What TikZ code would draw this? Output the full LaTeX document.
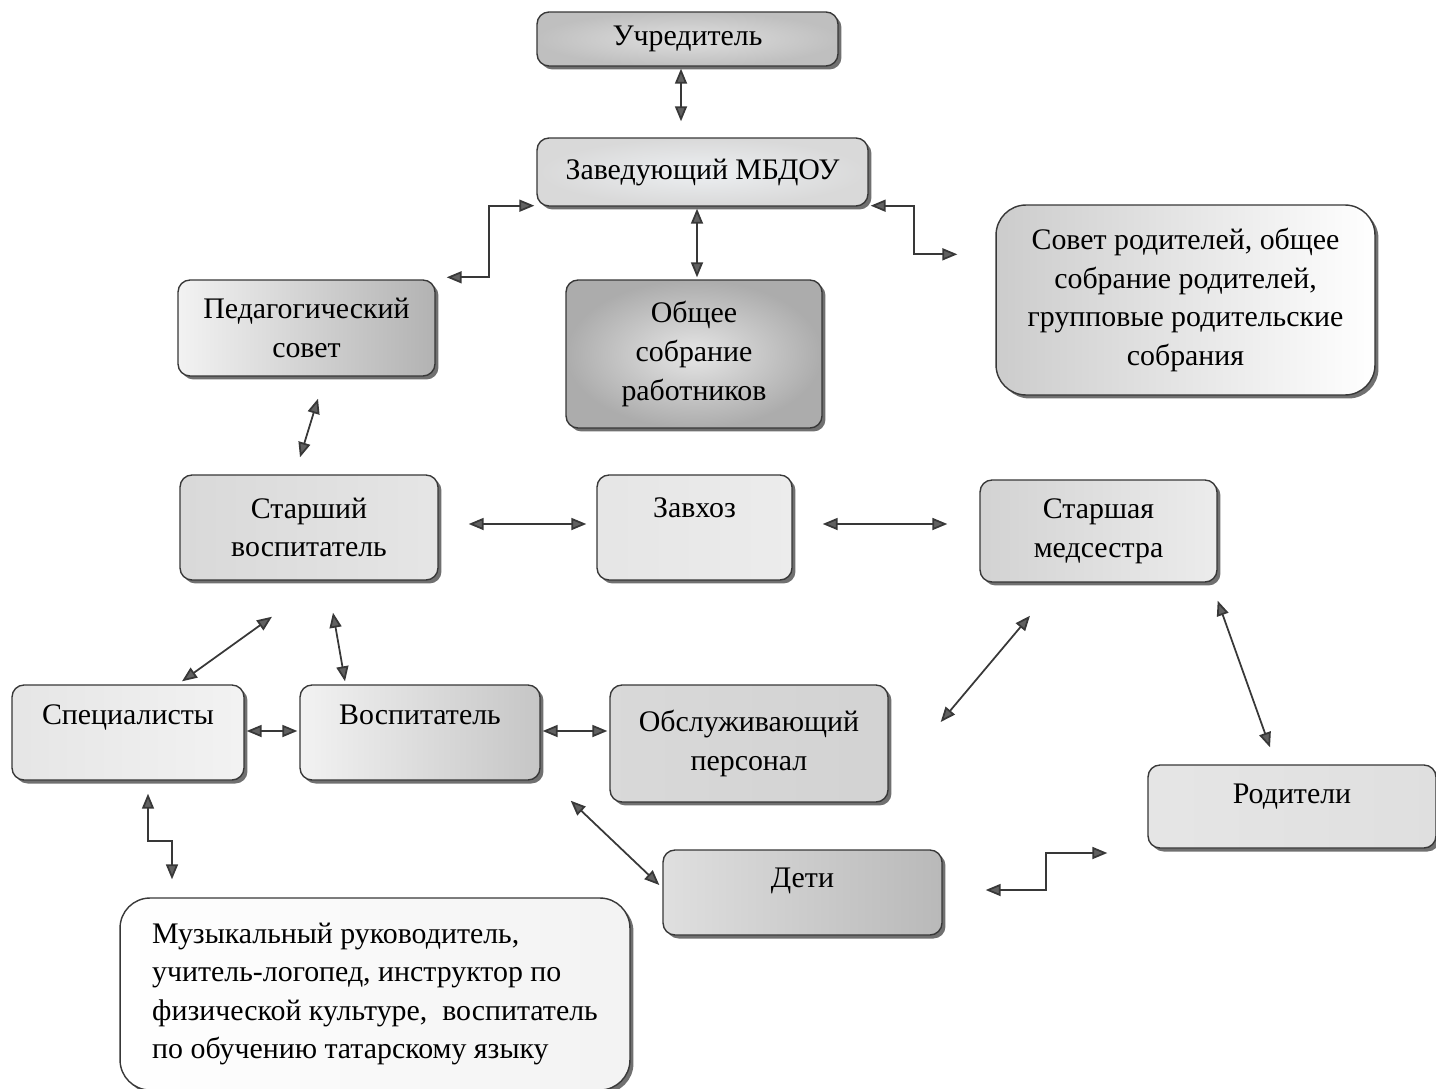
\documentclass[tikz,border=0pt]{standalone}
\usepackage{fontspec}
\setmainfont{Liberation Serif}
\usetikzlibrary{arrows.meta}
\usetikzlibrary{positioning}
\usetikzlibrary{shadows}
\usetikzlibrary{calc}
\definecolor{mline}{rgb}{0.22, 0.22, 0.22}
\definecolor{mtip}{rgb}{0.38, 0.38, 0.38}
\definecolor{mpale}{rgb}{0.93, 0.94, 0.95}
\tikzset{
    unit/.style={draw=mline, line width=0.8pt, rounded corners=0.24cm, align=center,
        font=\fontsize{17}{22}\selectfont, inner sep=2pt,
        drop shadow={shadow xshift=0.07cm, shadow yshift=-0.07cm, fill=black!70, opacity=0.8}},
    bigunit/.style={unit, rounded corners=0.6cm},
    lifted/.style={text depth=#1},
    link/.style={{Triangle[length=0.3cm, width=0.24cm, fill=mtip]}-{Triangle[length=0.3cm, width=0.24cm, fill=mtip]},
        line width=1pt, draw=mline}
}

\begin{document}
\begin{tikzpicture}[x=0.02cm, y=-0.02cm]
    \useasboundingbox (0, 0) rectangle (1436, 1088);

    \node[unit, inner color=gray!25, outer color=gray!50, minimum width=6.02cm, minimum height=1.08cm] (uch) at (687.5, 39) {Учредитель};
    \node[unit, inner color=mpale, outer color=gray!30, minimum width=6.62cm, minimum height=1.36cm] (zav) at (702.5, 172) {Заведующий МБДОУ};
    \node[bigunit, left color=gray!40, right color=white, minimum width=7.58cm, minimum height=3.8cm] (sovet) at (1185.5, 300) {Совет родителей, общее\\собрание родителей,\\групповые родительские\\собрания};
    \node[unit, left color=gray!10, right color=gray!60, minimum width=5.14cm, minimum height=1.92cm] (ped) at (306.5, 328) {Педагогический\\совет};
    \node[unit, inner color=gray!20, outer color=gray!65, minimum width=5.12cm, minimum height=2.96cm] (obsh) at (694, 354) {Общее\\собрание\\работников};

    \node[unit, left color=gray!30, right color=gray!20, minimum width=5.16cm, minimum height=2.1cm] (starsh) at (309, 527.5) {Старший\\воспитатель};
    \node[unit, left color=gray!20, right color=gray!15, lifted=0.81cm, minimum width=3.9cm, minimum height=2.1cm] (zavhoz) at (694.5, 527.5) {Завхоз};
    \node[unit, left color=gray!35, right color=gray!15, minimum width=4.74cm, minimum height=2.04cm] (med) at (1098.5, 531) {Старшая\\медсестра};

    \node[unit, left color=gray!20, right color=gray!10, lifted=0.73cm, minimum width=4.64cm, minimum height=1.9cm] (spec) at (128, 732.5) {Специалисты};
    \node[unit, left color=gray!10, right color=gray!45, lifted=0.73cm, minimum width=4.8cm, minimum height=1.9cm] (vosp) at (420, 732.5) {Воспитатель};
    \node[unit, left color=gray!30, right color=gray!35, minimum width=5.56cm, minimum height=2.34cm] (obsl) at (749, 743.5) {Обслуживающий\\персонал};
    \node[unit, left color=gray!20, right color=gray!25, lifted=0.53cm, minimum width=5.76cm, minimum height=1.66cm] (rod) at (1292, 806.5) {Родители};
    \node[unit, left color=gray!25, right color=gray!55, lifted=0.61cm, minimum width=5.58cm, minimum height=1.7cm] (deti) at (802.5, 892.5) {Дети};
    \node[bigunit, left color=white, right color=gray!10, align=left, minimum width=10.2cm, minimum height=3.84cm] (muz) at (375, 994) {Музыкальный руководитель,\\учитель-логопед, инструктор по\\физической культуре,\ \ воспитатель\\по обучению татарскому языку};

    \draw[link] ($(uch.south)+(-6.5, 2)$) -- ($(zav.north)+(-21.5, -16)$);
    \draw[link] ($(zav.south west)+(-2, -1)$) -- ++(-45, 0) |- ($(ped.north east)+(11, -2)$);
    \draw[link] ($(zav.south east)+(2, -1)$) -- ++(43, 0) |- ($(sovet.north west)+(-38, 50)$);
    \draw[link] ($(zav.south)+(-5.5, 2)$) -- ($(obsh.north)+(3, -2)$);
    \draw[link] ($(ped.south)+(11.5, 22)$) -- ($(starsh.north)+(-9, -17)$);
    \draw[link] ($(starsh.east)+(30, -3.5)$) -- ($(zavhoz.west)+(-10, -3.5)$);
    \draw[link] ($(zavhoz.east)+(30, -3.5)$) -- ($(med.west)+(-32, -7)$);
    \draw[link] ($(starsh.south)+(-37, 36)$) -- ($(spec.north)+(54, -3)$);
    \draw[link] ($(starsh.south)+(24, 32)$) -- ($(vosp.north)+(-75, -3)$);
    \draw[link] ($(spec.east)+(2, -1.5)$) -- ($(vosp.west)+(-2, -1.5)$);
    \draw[link] ($(vosp.east)+(2, -1.5)$) -- ($(obsl.west)+(-2, -12.5)$);
    \draw[link] ($(obsl.east)+(52, -21.5)$) -- ($(med.south)+(-68.5, 33)$);
    \draw[link] ($(med.south east)+(0, 18)$) -- ($(rod.north)+(-22, -17)$);
    \draw[link] ($(vosp.south east)+(30, 20)$) -- ($(deti.west)+(-3, -7.5)$);
    \draw[link] ($(deti.east)+(43, -2.5)$) -- ++(60, 0) |- ($(rod.west)+(-40, 46.5)$);
    \draw[link] ($(spec.south)+(20, 13)$) -- ++(0, 47) -| ($(muz.north)+(-203, -18)$);
  \end{tikzpicture}
\end{document}
